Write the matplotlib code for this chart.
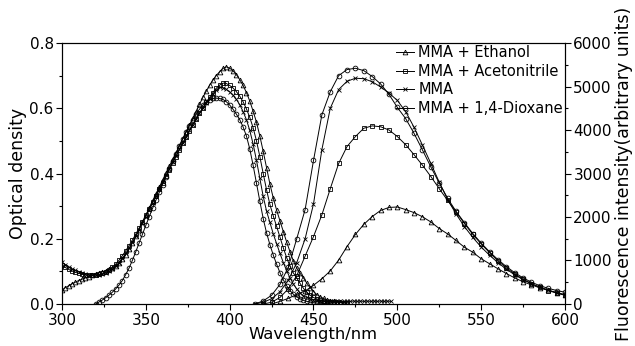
import numpy as np
import matplotlib
matplotlib.use("Agg")
import matplotlib.pyplot as plt
from matplotlib.ticker import MultipleLocator

plt.rcParams['font.family'] = ['DejaVu Sans']

labels = ["MMA + Ethanol", "MMA + Acetonitrile", "MMA", "MMA + 1,4-Dioxane"]

# absorption spectra, 2 nm steps (optical density)
abs_start = [300, 300, 300, 320]
abs_etoh = [0.043, 0.050, 0.056, 0.062, 0.067, 0.072, 0.076, 0.080, 0.084, 0.088,
            0.092, 0.096, 0.099, 0.102, 0.106, 0.110, 0.116, 0.125, 0.137, 0.151,
            0.168, 0.187, 0.207, 0.228, 0.250, 0.272, 0.294, 0.316, 0.337, 0.358,
            0.379, 0.401, 0.422, 0.443, 0.464, 0.485, 0.506, 0.527, 0.548, 0.569,
            0.590, 0.612, 0.633, 0.652, 0.670, 0.686, 0.700, 0.712, 0.722,
            0.727, 0.723, 0.715, 0.703, 0.688, 0.670, 0.648, 0.622, 0.591, 0.557,
            0.515, 0.468, 0.418, 0.368, 0.325, 0.288, 0.255, 0.222, 0.190, 0.160,
            0.132, 0.110, 0.094, 0.080, 0.064, 0.050, 0.038, 0.029, 0.022, 0.017,
            0.013, 0.010, 0.008, 0.006, 0.005, 0.004, 0.003]
abs_acn = [0.118, 0.112, 0.106, 0.101, 0.097, 0.094, 0.091, 0.089, 0.088, 0.088,
           0.089, 0.091, 0.094, 0.098, 0.104, 0.112, 0.122, 0.134, 0.148, 0.163,
           0.179, 0.196, 0.214, 0.233, 0.252, 0.272, 0.292, 0.312, 0.332, 0.352,
           0.372, 0.392, 0.412, 0.432, 0.452, 0.472, 0.492, 0.511, 0.530, 0.549,
           0.567, 0.585, 0.602, 0.618, 0.633, 0.648, 0.661, 0.671, 0.677,
           0.676, 0.670, 0.662, 0.651, 0.637, 0.620, 0.598, 0.572, 0.540, 0.500,
           0.452, 0.400, 0.350, 0.305, 0.270, 0.238, 0.205, 0.172, 0.142, 0.115,
           0.095, 0.080, 0.063, 0.048, 0.036, 0.027, 0.020, 0.015, 0.011, 0.009,
           0.007, 0.006, 0.005, 0.004, 0.004, 0.003, 0.003]
abs_mma = [0.128, 0.121, 0.114, 0.108, 0.103, 0.099, 0.095, 0.092, 0.090, 0.089,
           0.089, 0.090, 0.092, 0.095, 0.100, 0.107, 0.116, 0.127, 0.140, 0.155,
           0.171, 0.189, 0.208, 0.228, 0.248, 0.268, 0.289, 0.310, 0.331, 0.352,
           0.373, 0.394, 0.414, 0.434, 0.454, 0.474, 0.494, 0.513, 0.532, 0.550,
           0.567, 0.584, 0.600, 0.615, 0.629, 0.643, 0.655, 0.665,
           0.663, 0.658, 0.650, 0.640, 0.627, 0.611, 0.590, 0.565, 0.532, 0.490,
           0.440, 0.385, 0.330, 0.285, 0.250, 0.215, 0.185, 0.155, 0.127, 0.102,
           0.080, 0.061, 0.046, 0.034, 0.025, 0.020, 0.016, 0.013, 0.011, 0.010,
           0.009, 0.009, 0.008, 0.009, 0.008, 0.009, 0.008, 0.009, 0.008, 0.009,
           0.008, 0.009, 0.008, 0.009, 0.008, 0.009, 0.008, 0.009, 0.008, 0.009,
           0.008]
abs_diox = [0.000, 0.006, 0.012, 0.019, 0.027, 0.036, 0.046, 0.058, 0.072, 0.090,
            0.110, 0.134, 0.160, 0.187, 0.214, 0.241, 0.267, 0.293, 0.318, 0.342,
            0.366, 0.390, 0.414, 0.438, 0.461, 0.484, 0.506, 0.527, 0.547, 0.565,
            0.582, 0.597, 0.610, 0.620, 0.626, 0.630, 0.631, 0.630, 0.627, 0.620,
            0.610, 0.597, 0.582, 0.565, 0.543, 0.515, 0.475, 0.425, 0.370, 0.315,
            0.262, 0.218, 0.182, 0.150, 0.122, 0.096, 0.074, 0.056, 0.041, 0.030,
            0.022, 0.016, 0.011, 0.008, 0.006, 0.004, 0.003, 0.002, 0.002, 0.001,
            0.001]

# fluorescence spectra, 5 nm steps (arbitrary units)
fl_start = [425, 420, 415, 415]
fl_etoh = [0, 60, 130, 220, 300, 430, 580, 760, 1010, 1320, 1600, 1830, 2010, 2150,
           2220, 2230, 2170, 2100, 2005, 1885, 1735, 1610, 1460, 1305, 1190, 1040,
           925, 810, 700, 600, 510, 440, 370, 315, 260, 215]
fl_acn = [0, 40, 150, 350, 650, 1100, 1550, 2050, 2650, 3230, 3620, 3850, 4040, 4095,
          4075, 4000, 3850, 3660, 3430, 3190, 2930, 2650, 2380, 2120, 1850, 1600,
          1380, 1180, 990, 830, 690, 570, 470, 380, 310, 250, 200]
fl_mma = [0, 40, 120, 280, 550, 950, 1500, 2300, 3550, 4500, 4930, 5120, 5190, 5180,
          5110, 4990, 4850, 4680, 4420, 4060, 3650, 3230, 2800, 2400, 2070, 1780,
          1530, 1310, 1120, 950, 800, 670, 560, 460, 390, 320, 260, 210]
fl_diox = [0, 70, 200, 450, 850, 1500, 2170, 3300, 4350, 4880, 5250, 5390, 5420, 5365,
           5230, 5060, 4820, 4520, 4260, 3920, 3540, 3150, 2780, 2430, 2130, 1870,
           1620, 1400, 1200, 1020, 860, 720, 600, 500, 420, 360, 310, 270]

markers = ['^', 's', 'x', 'o']
abs_data = [abs_etoh, abs_acn, abs_mma, abs_diox]
fl_data = [fl_etoh, fl_acn, fl_mma, fl_diox]

fig = plt.figure(figsize=(6.35, 3.46), dpi=100)
ax = fig.add_axes([0.0976, 0.1214, 0.7922, 0.7543])
ax2 = ax.twinx()

style = dict(color='black', lw=0.7, ms=3.4, mew=0.6, mfc='none')

for vals, x0, m in zip(abs_data, abs_start, markers):
    wl = x0 + 2 * np.arange(len(vals))
    ax.plot(wl, vals, marker=m, **style)

handles = []
for vals, x0, m, lab in zip(fl_data, fl_start, markers, labels):
    wl = x0 + 5 * np.arange(len(vals))
    h, = ax2.plot(wl, vals, marker=m, label=lab, **style)
    handles.append(h)

ax.set_xlim(300, 600)
ax.set_ylim(0, 0.8)
ax2.set_ylim(0, 6000)

ax.xaxis.set_major_locator(MultipleLocator(50))
ax.xaxis.set_minor_locator(MultipleLocator(25))
ax.yaxis.set_major_locator(MultipleLocator(0.2))
ax.yaxis.set_minor_locator(MultipleLocator(0.1))
ax2.yaxis.set_major_locator(MultipleLocator(1000))
ax2.yaxis.set_minor_locator(MultipleLocator(500))
ax.yaxis.set_major_formatter(plt.FormatStrFormatter('%.1f'))

for a in (ax, ax2):
    a.tick_params(which='major', length=4, width=0.8, labelsize=11, pad=2)
    a.tick_params(which='minor', length=2.5, width=0.8)
    for s in a.spines.values():
        s.set_linewidth(0.8)
ax.tick_params(axis='x', which='major', pad=2.5)

ax.set_xlabel("Wavelength/nm", fontsize=11.8, labelpad=-0.5)
ax.set_ylabel("Optical density", fontsize=12.5, labelpad=2)
ax2.set_ylabel("Fluorescence intensity(arbitrary units)", fontsize=12.5, labelpad=2)

ax2.legend(handles=handles, loc='upper right', frameon=False, fontsize=10.5,
           handlelength=1.2, handletextpad=0.3, labelspacing=0.25,
           borderaxespad=0.0, borderpad=0.15)

fig.savefig("out.png", dpi=100)
